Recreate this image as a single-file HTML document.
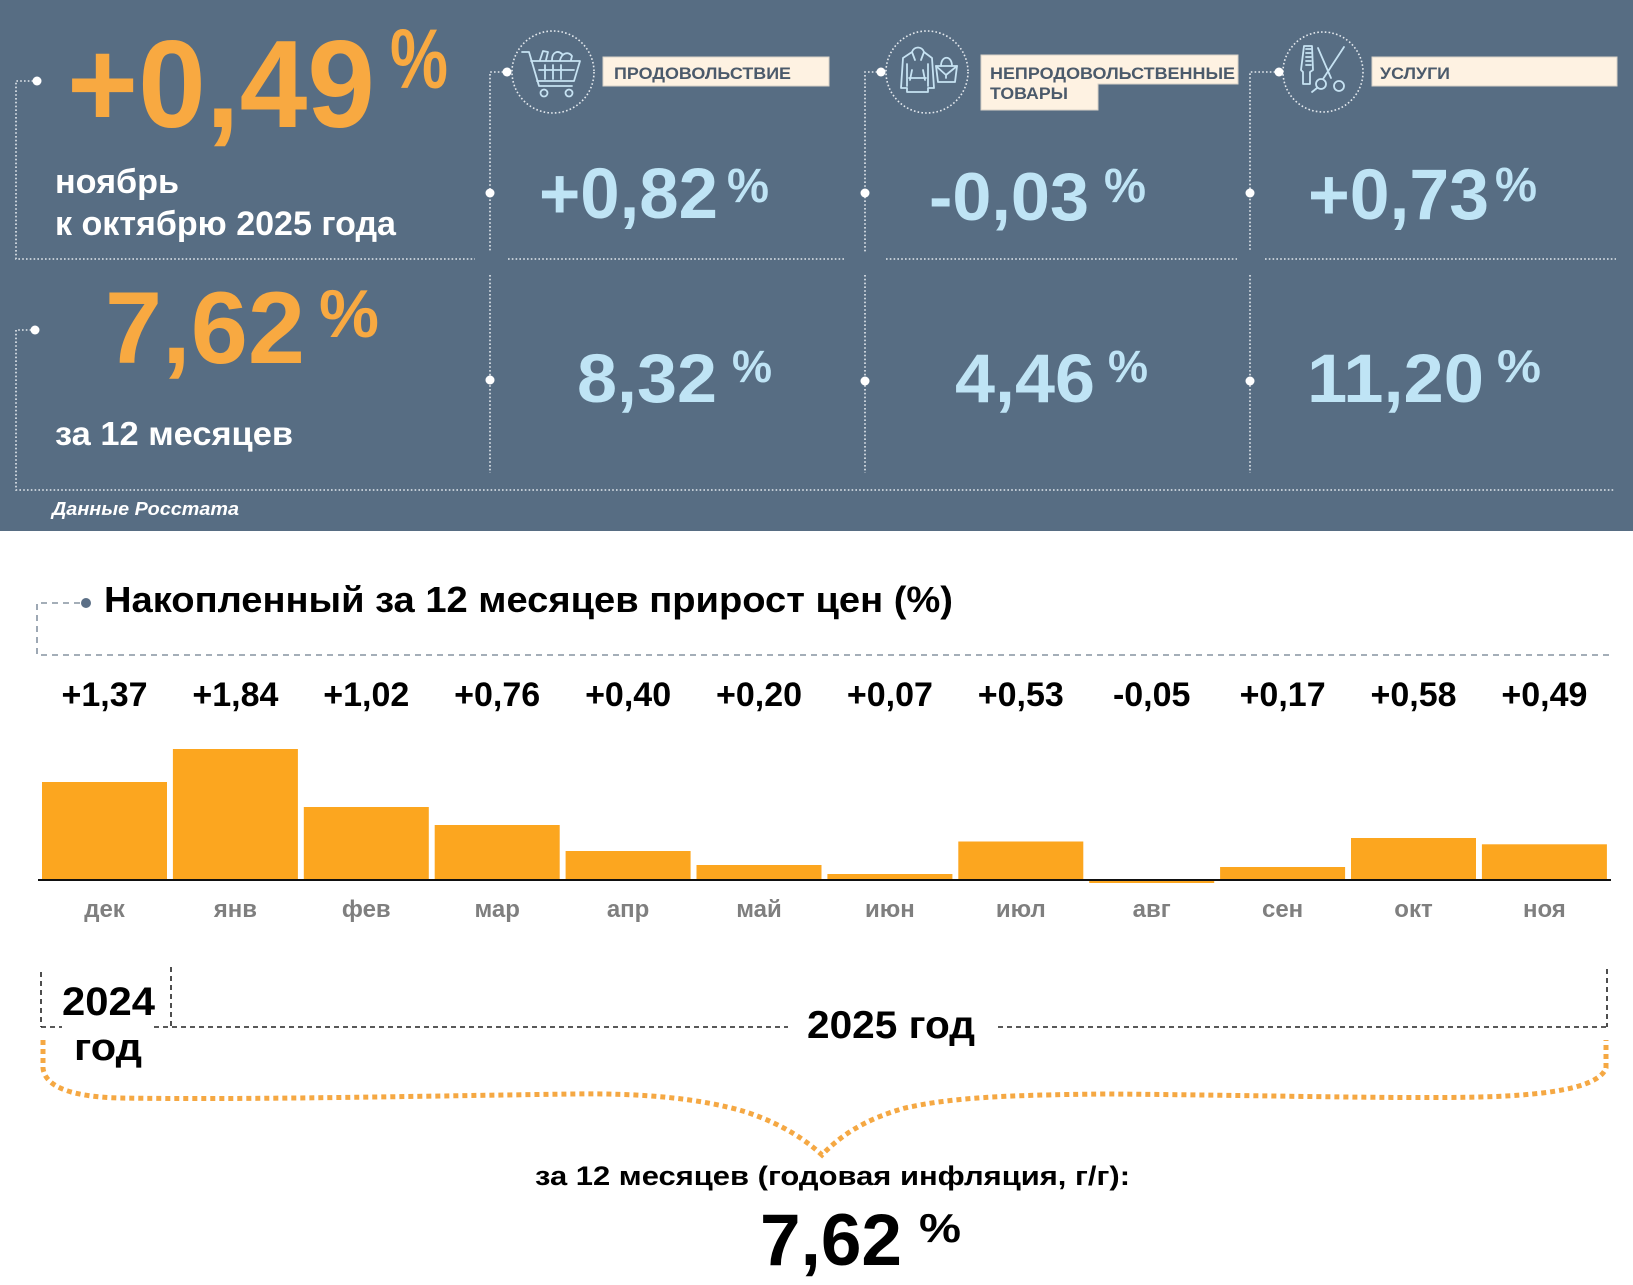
<!DOCTYPE html>
<html>
<head>
<meta charset="utf-8">
<style>
html,body{margin:0;padding:0;background:#fff;}
svg{display:block;}
text{font-family:"Liberation Sans","Noto Sans CJK SC",sans-serif;font-weight:bold;}
</style>
</head>
<body>
<svg width="1633" height="1285" viewBox="0 0 1633 1285" xmlns="http://www.w3.org/2000/svg">
  <!-- top panel -->
  <rect x="0" y="0" width="1633" height="531" fill="#576d83"/>

  <!-- dotted frame lines -->
  <g fill="none" stroke="#e4e9ee" stroke-width="1.6" stroke-dasharray="1.6 2.2">
    <path d="M37,81 H16 V259 H475"/>
    <path d="M35,330 H16 V490 H1614"/>
    <path d="M507,72 H490 V252"/>
    <path d="M490,275 V473"/>
    <path d="M508,259 H845"/>
    <path d="M881,72 H865 V252"/>
    <path d="M865,275 V473"/>
    <path d="M886,259 H1237"/>
    <path d="M1279,72 H1250 V252"/>
    <path d="M1250,275 V473"/>
    <path d="M1265,259 H1616"/>
    <circle cx="553" cy="72" r="41"/>
    <circle cx="927" cy="72" r="41"/>
    <circle cx="1323" cy="72" r="40"/>
  </g>
  <g fill="#ffffff">
    <circle cx="37" cy="81" r="4.5"/>
    <circle cx="35" cy="330" r="4.5"/>
    <circle cx="507" cy="72" r="4.5"/>
    <circle cx="490" cy="193" r="4.5"/>
    <circle cx="490" cy="380" r="4.5"/>
    <circle cx="881" cy="72" r="4.5"/>
    <circle cx="865" cy="193" r="4.5"/>
    <circle cx="865" cy="381" r="4.5"/>
    <circle cx="1279" cy="72" r="4.5"/>
    <circle cx="1250" cy="193" r="4.5"/>
    <circle cx="1250" cy="381" r="4.5"/>
  </g>

  <!-- icons -->
  <g fill="none" stroke="#c6e2f2" stroke-width="1.8" stroke-linecap="round" stroke-linejoin="round">
    <!-- cart -->
    <path d="M522,52 H529 L539,86 H572"/>
    <path d="M531,61 H580 L574,81 H537"/>
    <path d="M545,65 V79 M553,65 V79 M561,65 V79 M539,70 H574"/>
    <circle cx="544" cy="93" r="3.5"/>
    <circle cx="569" cy="93" r="3.5"/>
    <path d="M540,60 L543,51 L548,52 L546,60 M552,60 C552,52 558,50 562,54 M560,60 C562,53 568,51 572,56 L571,60"/>
    <!-- hoodie -->
    <path d="M912,52 C914,46 922,46 924,52 L932,58 L934,88 L928,88 L928,92 H907 V88 L901,88 L903,58 Z"/>
    <path d="M912,52 L915,60 M924,52 L921,60 M909,78 H926 M912,70 L910,80 M923,70 L925,80 M907,64 V86 M928,64 V86"/>
    <!-- bag -->
    <path d="M936,66 H957 L955,82 H938 Z"/>
    <path d="M941,66 C941,55 952,55 952,66"/>
    <path d="M936,66 L946,75 L957,66 M946,75 V78"/>
    <!-- comb -->
    <path d="M1304,46 H1312 L1313,70 L1310,72 V84 H1303 V72 L1301,70 Z"/>
    <path d="M1306,49 H1311 M1306,53 H1311 M1306,57 H1311 M1306,61 H1311 M1306,65 H1311"/>
    <!-- scissors -->
    <path d="M1318,48 L1331,78 M1344,47 L1323,79"/>
    <circle cx="1321" cy="84" r="5"/>
    <circle cx="1339" cy="86" r="5"/>
    <path d="M1312,92 L1317,88"/>
  </g>

  <!-- label boxes -->
  <g fill="#fef2e2" stroke="#d8d2c8" stroke-width="1">
    <rect x="603" y="57" width="226" height="29"/>
    <path d="M981,55 H1238 V84 H1098 V110 H981 Z"/>
    <rect x="1372" y="57" width="245" height="29"/>
  </g>
  <g fill="#4b5a6b">
    <text x="614" y="79" font-size="17" textLength="177" lengthAdjust="spacingAndGlyphs">ПРОДОВОЛЬСТВИЕ</text>
    <text x="990" y="79" font-size="17" textLength="245" lengthAdjust="spacingAndGlyphs">НЕПРОДОВОЛЬСТВЕННЫЕ</text>
    <text x="990" y="99" font-size="17" textLength="78" lengthAdjust="spacingAndGlyphs">ТОВАРЫ</text>
    <text x="1380" y="79" font-size="17" textLength="70" lengthAdjust="spacingAndGlyphs">УСЛУГИ</text>
  </g>

  <!-- orange headline values -->
  <g fill="#f8a941">
    <text x="67" y="127" font-size="124" textLength="308" lengthAdjust="spacingAndGlyphs">+0,49</text>
    <text x="390" y="88" font-size="84" textLength="58" lengthAdjust="spacingAndGlyphs">%</text>
    <text x="105" y="363" font-size="102" textLength="200" lengthAdjust="spacingAndGlyphs">7,62</text>
    <text x="319" y="337" font-size="68" textLength="60" lengthAdjust="spacingAndGlyphs">%</text>
  </g>

  <!-- light blue values -->
  <g fill="#bfe4f5">
    <text x="539" y="218" font-size="71" textLength="179" lengthAdjust="spacingAndGlyphs">+0,82</text>
    <text x="727" y="202" font-size="48" textLength="42" lengthAdjust="spacingAndGlyphs">%</text>
    <text x="577" y="402" font-size="69" textLength="140" lengthAdjust="spacingAndGlyphs">8,32</text>
    <text x="732" y="382" font-size="45" textLength="40" lengthAdjust="spacingAndGlyphs">%</text>

    <text x="929" y="220" font-size="68" textLength="160" lengthAdjust="spacingAndGlyphs">-0,03</text>
    <text x="1104" y="202" font-size="48" textLength="42" lengthAdjust="spacingAndGlyphs">%</text>
    <text x="955" y="402" font-size="69" textLength="140" lengthAdjust="spacingAndGlyphs">4,46</text>
    <text x="1108" y="382" font-size="45" textLength="40" lengthAdjust="spacingAndGlyphs">%</text>

    <text x="1308" y="219" font-size="71" textLength="181" lengthAdjust="spacingAndGlyphs">+0,73</text>
    <text x="1495" y="201" font-size="48" textLength="42" lengthAdjust="spacingAndGlyphs">%</text>
    <text x="1307" y="402" font-size="69" textLength="177" lengthAdjust="spacingAndGlyphs">11,20</text>
    <text x="1497" y="382" font-size="46" textLength="44" lengthAdjust="spacingAndGlyphs">%</text>
  </g>

  <!-- white labels -->
  <g fill="#ffffff">
    <text x="55" y="193" font-size="34" textLength="124" lengthAdjust="spacingAndGlyphs">ноябрь</text>
    <text x="55" y="235" font-size="34" textLength="341" lengthAdjust="spacingAndGlyphs">к октябрю 2025 года</text>
    <text x="55" y="445" font-size="33" textLength="238" lengthAdjust="spacingAndGlyphs">за 12 месяцев</text>
    <text x="52" y="515" font-size="18" font-style="italic" textLength="187" lengthAdjust="spacingAndGlyphs">Данные Росстата</text>
  </g>

  <!-- chart title -->
  <path d="M80,603 H37 V655 H1609" fill="none" stroke="#8593a1" stroke-width="1.6" stroke-dasharray="6 5"/>
  <circle cx="86" cy="603" r="5" fill="#5b6f86"/>
  <text x="104" y="612" font-size="36" fill="#000" textLength="849" lengthAdjust="spacingAndGlyphs">Накопленный за 12 месяцев прирост цен (%)</text>

  <!-- value labels -->
  <g fill="#000" font-size="34" text-anchor="middle">
    <text x="104.5" y="706">+1,37</text>
    <text x="235.4" y="706">+1,84</text>
    <text x="366.3" y="706">+1,02</text>
    <text x="497.2" y="706">+0,76</text>
    <text x="628.1" y="706">+0,40</text>
    <text x="759" y="706">+0,20</text>
    <text x="889.9" y="706">+0,07</text>
    <text x="1020.8" y="706">+0,53</text>
    <text x="1151.7" y="706">-0,05</text>
    <text x="1282.6" y="706">+0,17</text>
    <text x="1413.5" y="706">+0,58</text>
    <text x="1544.4" y="706">+0,49</text>
  </g>

  <!-- bars -->
  <g fill="#fca61f">
    <rect x="42" y="782" width="125" height="97"/>
    <rect x="172.9" y="749" width="125" height="130"/>
    <rect x="303.8" y="807" width="125" height="72"/>
    <rect x="434.7" y="825" width="125" height="54"/>
    <rect x="565.6" y="851" width="125" height="28"/>
    <rect x="696.5" y="865" width="125" height="14"/>
    <rect x="827.4" y="874" width="125" height="5"/>
    <rect x="958.3" y="841.5" width="125" height="37.5"/>
    <rect x="1089.2" y="879" width="125" height="4"/>
    <rect x="1220.1" y="867" width="125" height="12"/>
    <rect x="1351" y="838" width="125" height="41"/>
    <rect x="1481.9" y="844.3" width="125" height="34.7"/>
  </g>
  <line x1="38" y1="880" x2="1611" y2="880" stroke="#111" stroke-width="2"/>

  <!-- month labels -->
  <g fill="#7f7f7f" font-size="24" text-anchor="middle">
    <text x="104.5" y="917">дек</text>
    <text x="235.4" y="917">янв</text>
    <text x="366.3" y="917">фев</text>
    <text x="497.2" y="917">мар</text>
    <text x="628.1" y="917">апр</text>
    <text x="759" y="917">май</text>
    <text x="889.9" y="917">июн</text>
    <text x="1020.8" y="917">июл</text>
    <text x="1151.7" y="917">авг</text>
    <text x="1282.6" y="917">сен</text>
    <text x="1413.5" y="917">окт</text>
    <text x="1544.4" y="917">ноя</text>
  </g>

  <!-- year brackets -->
  <g fill="none" stroke="#222" stroke-width="1.6" stroke-dasharray="5 4">
    <path d="M41,972 V1027"/>
    <path d="M171,967 V1027"/>
    <path d="M41,1027 H62"/>
    <path d="M154,1027 H788"/>
    <path d="M998,1027 H1607"/>
    <path d="M1607,969 V1027"/>
  </g>
  <g fill="#000">
    <text x="62" y="1015" font-size="40" textLength="93" lengthAdjust="spacingAndGlyphs">2024</text>
    <text x="74" y="1060" font-size="38" textLength="68" lengthAdjust="spacingAndGlyphs">год</text>
    <text x="807" y="1038" font-size="39" textLength="168" lengthAdjust="spacingAndGlyphs">2025 год</text>
  </g>

  <!-- orange brace -->
  <path d="M43,1040 V1068 C45,1088 75,1097 120,1098 C250,1100 420,1096 574,1094 C640,1093 700,1098 746,1112 C785,1125 808,1142 822,1155 C838,1138 862,1120 905,1108 C950,1098 1000,1095 1106,1094 C1250,1095 1400,1099 1480,1097 C1560,1095 1600,1085 1606,1068 V1040"
        fill="none" stroke="#f5a843" stroke-width="5" stroke-dasharray="5 4"/>

  <!-- bottom summary -->
  <text x="535" y="1185" font-size="27" fill="#000" textLength="595" lengthAdjust="spacingAndGlyphs">за 12 месяцев (годовая инфляция, г/г):</text>
  <text x="760" y="1265" font-size="73" fill="#000" textLength="142" lengthAdjust="spacingAndGlyphs">7,62</text>
  <text x="919" y="1242" font-size="41" fill="#000" textLength="42" lengthAdjust="spacingAndGlyphs">%</text>
</svg>
</body>
</html>
